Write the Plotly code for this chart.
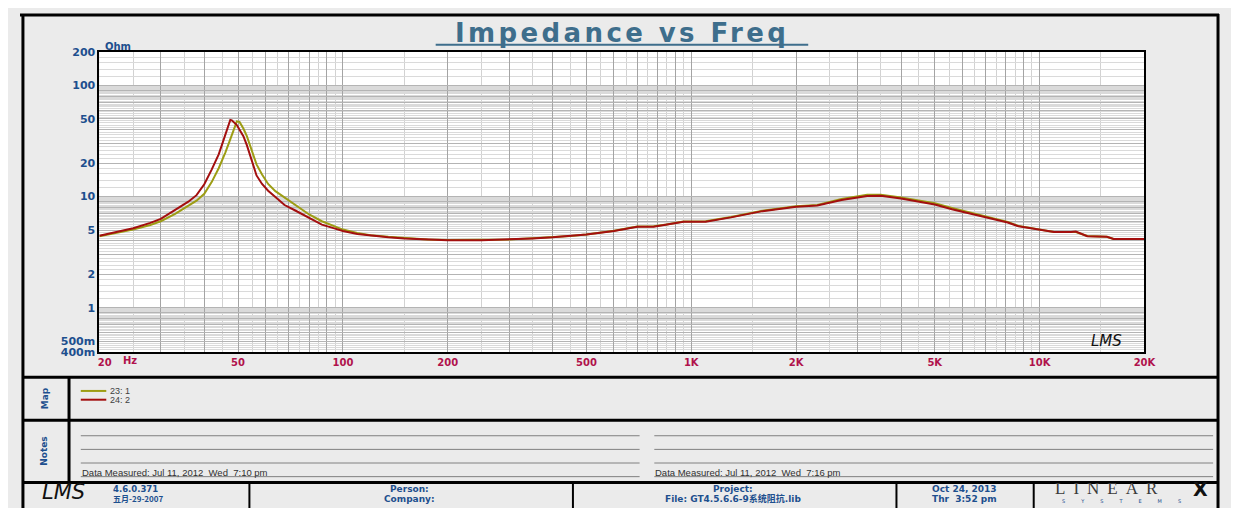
import math
import plotly.graph_objects as go

# page is 1239x516; the browser's default 8px body margin surrounds the figure
PAGE_W, PAGE_H = 1239, 516
OFF = 8
FW, FH = PAGE_W - 2 * OFF, PAGE_H - 2 * OFF

# ---------------- data ----------------
freq = [20, 22, 25, 28, 30, 33, 36, 38, 40, 42, 44, 45, 46, 47, 47.5, 48, 49, 49.6,
        50.5, 51.8, 53, 54.5, 56.5, 58.6, 61, 64, 68, 73, 80, 87, 95, 100, 110, 120,
        135, 150, 175, 200, 250, 300, 350, 400, 450, 500, 600, 700, 780, 850, 950,
        1100, 1300, 1600, 2000, 2300, 2700, 3200, 3500, 4000, 4500, 5000, 5600, 6500,
        7300, 8100, 8700, 10000, 11000, 12300, 12700, 13700, 15600, 16300, 20000]

z_23_1 = [4.4, 4.65, 5.05, 5.55, 6.0, 7.0, 8.2, 9.2, 10.6, 13.5, 18, 21, 25, 30, 33, 37, 44, 47.5,
          47, 41, 35, 27, 19.5, 15.8, 13, 11.2, 9.8, 8.4, 6.9, 6.0, 5.4, 5.05, 4.7, 4.5,
          4.35, 4.25, 4.12, 4.07, 4.07, 4.12, 4.22, 4.32, 4.42, 4.57, 4.92, 5.38, 5.4, 5.62, 5.98,
          6.0, 6.55, 7.45, 8.2, 8.4, 9.5, 10.4, 10.4, 9.8, 9.2, 8.7, 7.9, 7.0,
          6.4, 5.9, 5.45, 5.05, 4.8, 4.8, 4.8, 4.42, 4.35, 4.15, 4.15]

z_24_2 = [4.45, 4.75, 5.2, 5.8, 6.3, 7.6, 9.0, 10.3, 12.9, 17.5, 24, 29.5, 36, 44, 49, 48.5, 46, 44,
          40, 35, 29, 22, 15.5, 13, 11.3, 9.9, 8.4, 7.5, 6.4, 5.6, 5.15, 4.9, 4.6, 4.45,
          4.3, 4.2, 4.1, 4.05, 4.05, 4.1, 4.2, 4.3, 4.4, 4.55, 4.9, 5.35, 5.35, 5.6, 5.95,
          5.95, 6.5, 7.4, 8.1, 8.3, 9.3, 10.1, 10.2, 9.6, 9.0, 8.5, 7.7, 6.9,
          6.3, 5.85, 5.4, 5.0, 4.8, 4.8, 4.85, 4.4, 4.35, 4.15, 4.15]

series_names = ["23: 1", "24: 2"]
series_colors = ["#9d9d14", "#a30f0f"]

x_label_vals = [20, 50, 100, 200, 500, 1000, 2000, 5000, 10000, 20000]
x_label_text = ["\u00a0\u00a0\u00a020", "50", "100", "200", "500", "1K", "2K", "5K", "10K", "20K"]
y_label_vals = [0.4, 0.5, 1, 2, 5, 10, 20, 50, 100, 200]
y_label_text = ["400m", "500m", "1", "2", "5", "10", "20", "50", "100", "200"]

notes_left = "Data Measured: Jul 11, 2012\u00a0 Wed\u00a0 7:10 pm"
notes_right = "Data Measured: Jul 11, 2012\u00a0 Wed\u00a0 7:16 pm"

# ---------------- styles ----------------
BLUE = "#1d4f8e"
CRIMSON = "#b0124c"
TITLE_BLUE = "#3e6e8c"
BG = "#ebebeb"


def px(x):
    return (x - OFF) / FW


def py(y):
    return 1 - (y - OFF) / FH


def uniq(vals):
    out = []
    for v in vals:
        v = round(v, 6)
        if v not in out:
            out.append(v)
    return out

x_major = uniq([m * e for e in [10, 100, 1000, 10000] for m in range(1, 11) if 20 <= m * e <= 20000])
x_minor = uniq([(m + 0.5) * e for e in [10, 100, 1000, 10000] for m in range(1, 10) if 20 <= (m + 0.5) * e <= 20000])
x_ticktext = [x_label_text[x_label_vals.index(v)] if v in x_label_vals else "" for v in x_major]

y_major = uniq([m * e for e in [0.1, 1, 10, 100] for m in range(1, 11) if 0.4 <= m * e <= 200])
y_minor = uniq([round((1 + 0.2 * k) * e, 6) for e in [0.1, 1, 10, 100] for k in range(1, 45)
                if (k % 5) != 0 and 0.4 <= (1 + 0.2 * k) * e <= 200])
y_ticktext = [y_label_text[y_label_vals.index(v)] if v in y_label_vals else "" for v in y_major]

fig = go.Figure()
for name, z, c in zip(series_names, [z_23_1, z_24_2], series_colors):
    fig.add_trace(go.Scatter(x=freq, y=z, mode="lines", name=name,
                             line=dict(color=c, width=2), showlegend=False,
                             hoverinfo="x+y+name"))

fig.update_layout(
    width=FW, height=FH, margin=dict(l=0, r=0, t=0, b=0),
    paper_bgcolor=BG, plot_bgcolor="white", showlegend=False,
)
fig.update_xaxes(
    type="log", range=[math.log10(20), math.log10(20000)],
    domain=[px(89), px(1155)],
    tickmode="array", tickvals=x_major, ticktext=x_ticktext,
    showgrid=True, gridcolor="#a4a4a4", gridwidth=1,
    minor=dict(tickmode="array", tickvals=x_minor, showgrid=True, gridcolor="#d2d2d2", gridwidth=1, ticks=""),
    showline=True, linecolor="black", linewidth=2, mirror=True, ticks="",
    tickfont=dict(family="DejaVu Sans", size=10, color=CRIMSON, weight="bold"),
    zeroline=False,
)
fig.update_yaxes(
    type="log", range=[math.log10(0.4), math.log10(200)],
    domain=[py(355), py(47)],
    tickmode="array", tickvals=y_major, ticktext=y_ticktext,
    showgrid=True, gridcolor="#b4b4b4", gridwidth=1,
    minor=dict(tickmode="array", tickvals=y_minor, showgrid=True, gridcolor="#dadada", gridwidth=1, ticks=""),
    showline=True, linecolor="black", linewidth=2, mirror=True, ticks="",
    tickfont=dict(family="DejaVu Sans", size=11, color=BLUE, weight="bold"),
    zeroline=False,
)

shapes = []


def hline(y, x0, x1, color="black", width=3):
    shapes.append(dict(type="line", xref="paper", yref="paper", x0=px(x0), x1=px(x1),
                       y0=py(y), y1=py(y), line=dict(color=color, width=width)))


def vline(x, y0, y1, color="black", width=3):
    shapes.append(dict(type="line", xref="paper", yref="paper", x0=px(x), x1=px(x),
                       y0=py(y0), y1=py(y1), line=dict(color=color, width=width)))

# outer frame and section separators
hline(9, 8, 1231)
vline(11, 8, 516)
vline(1230, 8, 516)
hline(381, 11, 1231)
hline(425, 11, 1231)
hline(489, 11, 1231)
vline(58, 381, 489)
for xv in [242, 572, 902, 1042]:
    vline(xv, 489, 516, width=2)

# notes lines
for yv in [441, 455, 469, 483]:
    hline(yv, 70, 640, color="#808080", width=1)
    hline(yv, 655, 1225, color="#808080", width=1)

# legend lines
for i, c in enumerate(series_colors):
    hline(395 + 9 * i, 70, 96, color=c, width=2)

annotations = []


def ann(text, x, y, size=10, color=BLUE, xanchor="center", family="DejaVu Sans",
        weight="bold", angle=0, style="normal"):
    annotations.append(dict(text=text, x=px(x), y=py(y), xref="paper", yref="paper",
                            showarrow=False, xanchor=xanchor, yanchor="middle",
                            textangle=angle, borderpad=0,
                            font=dict(family=family, size=size, color=color, weight=weight, style=style)))

# title
ann('<span style="letter-spacing:3.4px">Impedance vs Freq</span>', 622, 28, size=26,
    color=TITLE_BLUE, family="DejaVu Sans")
hline(39.5, 432, 812, color=TITLE_BLUE, width=2)

ann("Ohm", 108, 41, size=10)
ann("Hz", 120, 364, size=10, color=CRIMSON)
ann("LMS", 1116, 344, size=15, color="#111111", family="DejaVu Sans", weight="normal", style="italic")

# map / notes
ann("Map", 33, 403, size=9, angle=-90)
ann("Notes", 33, 457, size=9, angle=-90)
for i, name in enumerate(series_names):
    ann(name, 99, 395 + 9 * i, size=9, color="#404040", xanchor="left",
        family="Liberation Sans", weight="normal")
ann(notes_left, 70, 479, size=9.5, color="#303030", xanchor="left", family="Liberation Sans", weight="normal")
ann(notes_right, 655, 479, size=9.5, color="#303030", xanchor="left", family="Liberation Sans", weight="normal")

# footer
ann("LMS", 52, 499, size=21, color="#111111", weight="normal", style="italic")
ann("4.6.0.371", 102, 496, size=8.5, xanchor="left")
ann("五月-29-2007", 102, 505.5, size=8, xanchor="left", family="Noto Sans CJK SC")
ann("Person:", 405, 496, size=9)
ann("Company:", 405, 505.5, size=9)
ann("Project:", 735, 496, size=9)
ann("File: GT4.5.6.6-9系统阻抗.lib", 735, 505.5, size=9, family="DejaVu Sans, Noto Sans CJK SC")
ann("Oct 24, 2013", 971, 496, size=9)
ann("Thr\u00a0 3:52 pm", 971, 505.5, size=9)
ann('<span style="letter-spacing:8px">LINEAR</span>', 1120, 495, size=17, color="#3a3a3a",
    family="Liberation Serif", weight="normal")
ann("X", 1212, 495.5, size=19, color="#111111", family="DejaVu Sans", weight="bold")
ann('<span style="letter-spacing:16px">SYSTEMS</span>', 1140, 507.5, size=5, color=BLUE, weight="normal")

fig.update_layout(shapes=shapes, annotations=annotations)
fig.write_html("out.html", config={"displayModeBar": False})
